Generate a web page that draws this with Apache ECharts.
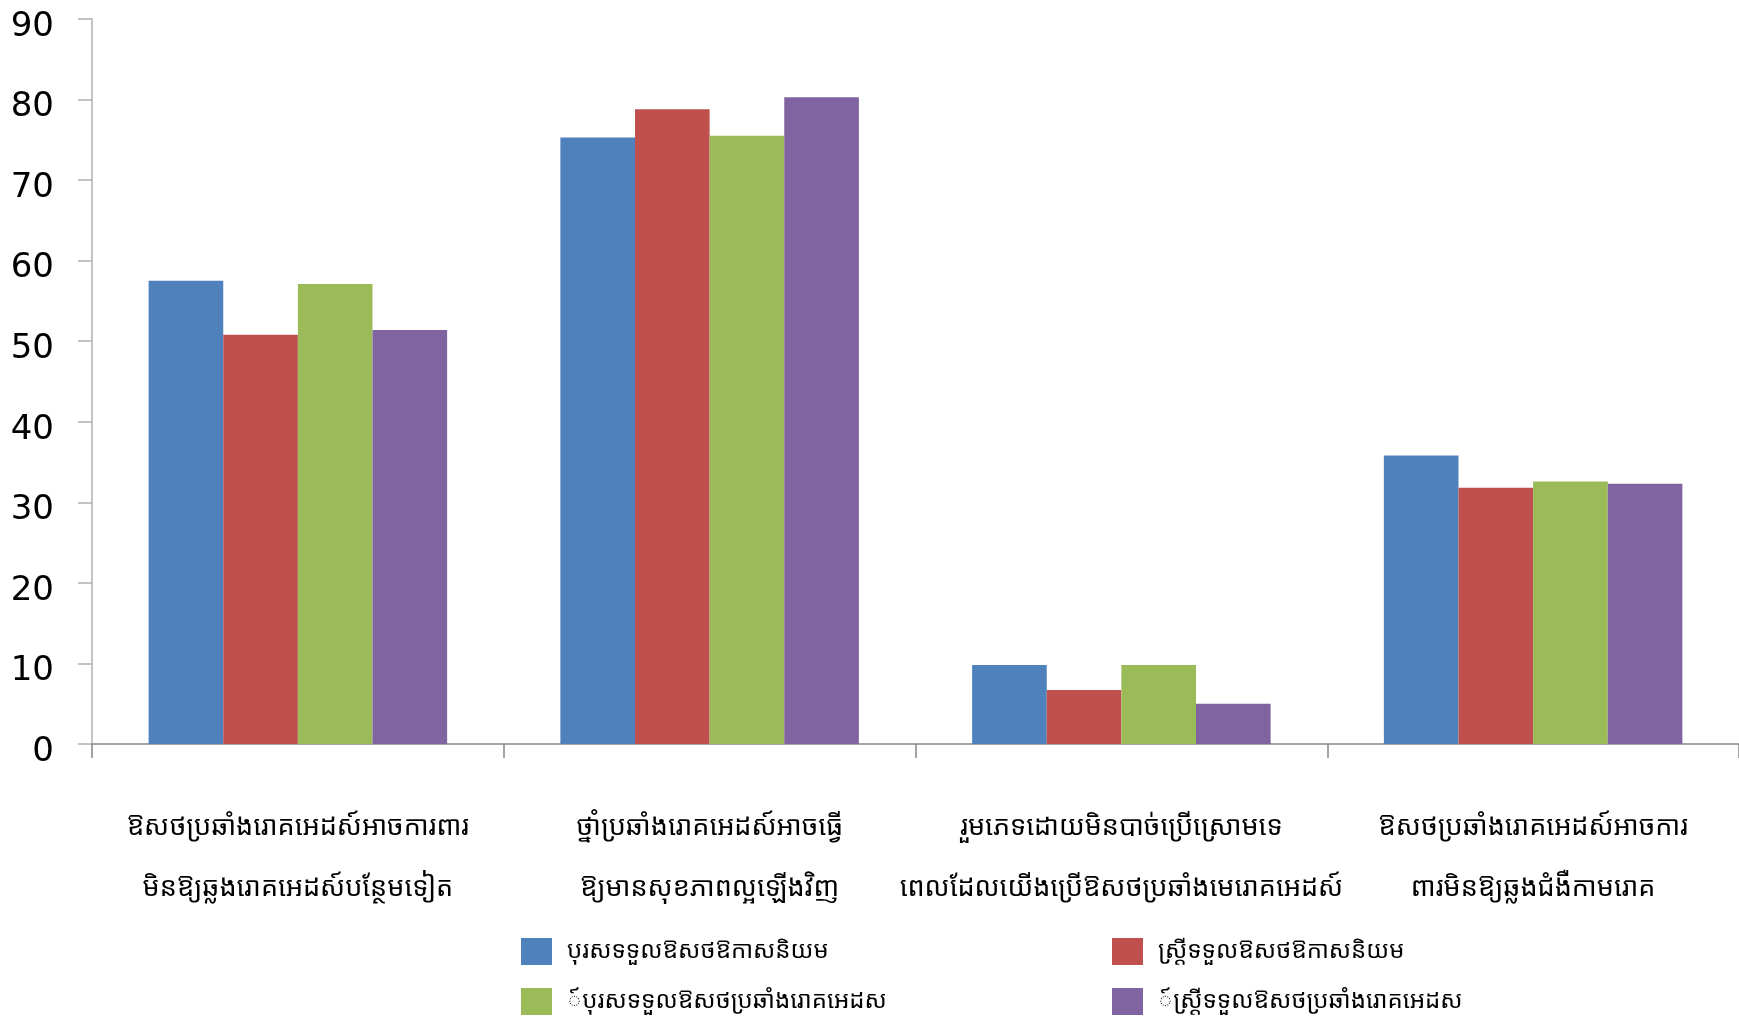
<!DOCTYPE html>
<html>
<head>
<meta charset="utf-8">
<script src="https://cdn.jsdelivr.net/npm/echarts@6/dist/echarts.min.js"></script>
<style>
html,body{margin:0;padding:0;background:#fff;}
#chart{width:1739px;height:1024px;}
</style>
</head>
<body>
<div id="chart"></div>
<script>
const categories = [
  "ឱសថប្រឆាំងរោគអេដស៍អាចការពារ\nមិនឱ្យឆ្លងរោគអេដស៍បន្ថែមទៀត",
  "ថ្នាំប្រឆាំងរោគអេដស៍អាចធ្វើ\nឱ្យមានសុខភាពល្អឡើងវិញ",
  "រួមភេទដោយមិនបាច់ប្រើស្រោមទេ\nពេលដែលយើងប្រើឱសថប្រឆាំងមេរោគអេដស៍",
  "ឱសថប្រឆាំងរោគអេដស៍អាចការ\nពារមិនឱ្យឆ្លងជំងឺកាមរោគ"
];
const seriesNames = [
  "បុរសទទួលឱសថឱកាសនិយម",
  "ស្ត្រីទទួលឱសថឱកាសនិយម",
  "៍បុរសទទួលឱសថប្រឆាំងរោគអេដស",
  "៍ស្ត្រីទទួលឱសថប្រឆាំងរោគអេដស"
];
const menOpportunistic = [57.5, 75.3, 9.8, 35.8];
const womenOpportunistic = [50.8, 78.8, 6.7, 31.8];
const menARV = [57.1, 75.5, 9.8, 32.6];
const womenARV = [51.4, 80.3, 5.0, 32.3];
const yTicks = [0, 10, 20, 30, 40, 50, 60, 70, 80, 90];

const colors = ['#4f81bd', '#c0504d', '#9bbb59', '#8064a2'];
const values = [menOpportunistic, womenOpportunistic, menARV, womenARV];
const khmerFont = "'Noto Sans Khmer','Khmer OS','DejaVu Sans','Noto Sans',sans-serif";

const legendPos = [[516, 933], [1107, 933], [516, 983], [1107, 983]];

const chart = echarts.init(document.getElementById('chart'), null, {renderer: 'canvas'});
chart.setOption({
  animation: false,
  color: colors,
  grid: {left: 92, top: 19, width: 1650, bottom: 280, containLabel: false},
  legend: seriesNames.map((n, i) => ({
    data: [n],
    left: legendPos[i][0],
    top: legendPos[i][1],
    itemWidth: 31,
    itemHeight: 27,
    itemGap: 14,
    icon: 'rect',
    textStyle: {fontSize: 24, color: '#000', fontFamily: khmerFont, padding: [0, 0, 0, 10]}
  })),
  xAxis: {
    type: 'category',
    data: categories,
    axisLine: {lineStyle: {color: '#868686', width: 1.5}},
    axisTick: {show: true, length: 14, lineStyle: {color: '#868686', width: 1.5}},
    axisLabel: {
      interval: 0,
      margin: 53,
      fontSize: 27,
      lineHeight: 61,
      color: '#000',
      fontFamily: khmerFont
    }
  },
  yAxis: {
    type: 'value',
    min: yTicks[0],
    max: yTicks[yTicks.length - 1],
    interval: 10,
    splitLine: {show: false},
    axisLine: {show: true, lineStyle: {color: '#b0b0b0', width: 1.5}},
    axisTick: {show: true, length: 14, lineStyle: {color: '#b0b0b0', width: 1.5}},
    axisLabel: {
      margin: 38,
      fontSize: 34,
      color: '#000',
      fontFamily: "'DejaVu Sans', sans-serif",
      verticalAlign: 'top',
      lineHeight: 16
    }
  },
  series: values.map((v, i) => ({
    name: seriesNames[i],
    type: 'bar',
    data: v,
    barGap: '0%',
    barCategoryGap: '27.5%',
    itemStyle: {color: colors[i]}
  }))
});
</script>
</body>
</html>
